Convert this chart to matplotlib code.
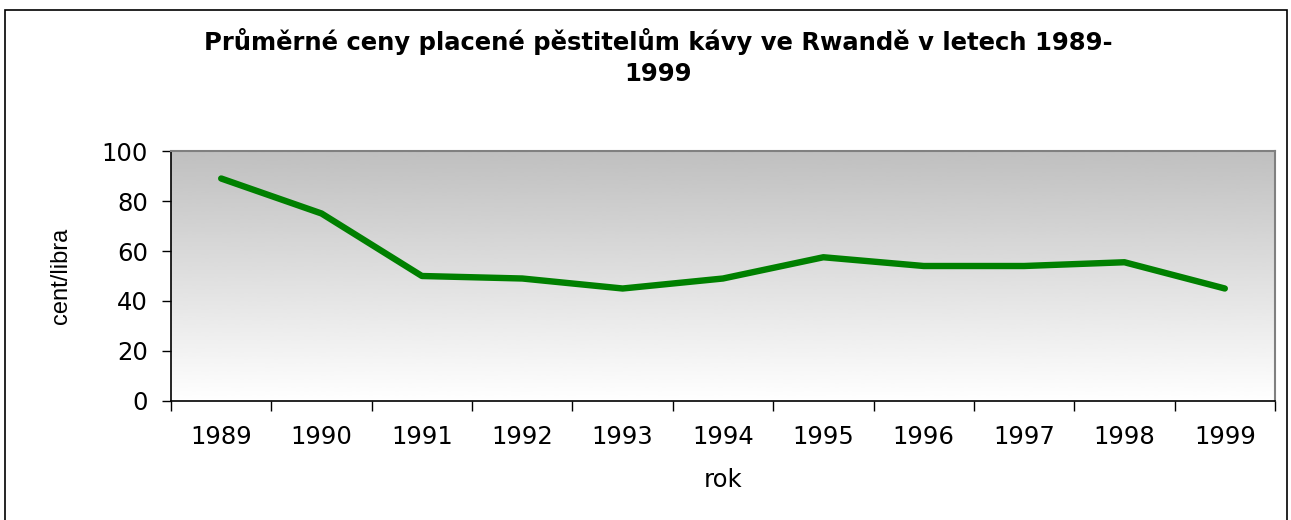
import matplotlib
matplotlib.use("Agg")
import matplotlib.pyplot as plt
import numpy as np
from matplotlib.patches import Rectangle

# data
years = ['1989', '1990', '1991', '1992', '1993', '1994', '1995', '1996', '1997', '1998', '1999']
prices = [89, 75, 50, 49, 45, 49, 57.5, 54, 54, 55.5, 45]
title = 'Průměrné ceny placené pěstitelům kávy ve Rwandě v letech 1989-\n1999'

plt.rcParams['font.family'] = ['DejaVu Sans']

W, H = 1291, 520
fig = plt.figure(figsize=(W / 100, H / 100), dpi=100)
ax = fig.add_axes([171 / W, 1 - 401 / H, (1275 - 171) / W, (401 - 151) / H])

# grey-to-white gradient in the plot area
grad = np.linspace(0.75, 1.0, 256).reshape(-1, 1)
ax.imshow(grad, cmap='gray', vmin=0, vmax=1, aspect='auto',
          extent=[0, 1, 0, 1], transform=ax.transAxes, zorder=0,
          interpolation='bicubic', origin='upper')

x = np.arange(len(years))
ax.plot(x, prices, color='#008000', lw=4.6, solid_capstyle='round',
        solid_joinstyle='round', zorder=3)

ax.set_xlim(-0.5, len(years) - 0.5)
ax.set_ylim(0, 100)
ax.set_yticks([0, 20, 40, 60, 80, 100])
ax.set_xticks(x)
ax.set_xticklabels(years)
ax.set_xticks(np.arange(-0.5, len(years)), minor=True)
ax.tick_params(axis='x', which='major', length=0, pad=17, labelsize=17.5)
ax.tick_params(axis='x', which='minor', length=7, width=1, color='black')
ax.tick_params(axis='y', length=6.5, width=1, labelsize=17.5, pad=10)

for s in ['left', 'bottom']:
    ax.spines[s].set_color('black')
    ax.spines[s].set_linewidth(1.2)
for s in ['top', 'right']:
    ax.spines[s].set_color('#808080')
    ax.spines[s].set_linewidth(1.5)

ax.set_xlabel('rok', fontsize=17.5)
ax.xaxis.label.set_va('center')
ax.xaxis.set_label_coords(0.5, (401 - 480) / 250)
ax.set_ylabel('cent/libra', fontsize=17, family=['Liberation Sans', 'DejaVu Sans'])
ax.yaxis.label.set_va('center')
ax.yaxis.set_label_coords((61 - 171) / 1104, 0.5)

fig.text(658 / W, 1 - 57 / H, title, ha='center', va='center',
         fontsize=17.5, fontweight='bold', linespacing=1.35)

# outer chart border
fig.patches.append(Rectangle((5 / W, -0.01), (1287 - 5) / W, 1 - 10 / H + 0.01,
                             transform=fig.transFigure, fill=False,
                             edgecolor='black', lw=1.2))

fig.savefig('out.png', dpi=100)
